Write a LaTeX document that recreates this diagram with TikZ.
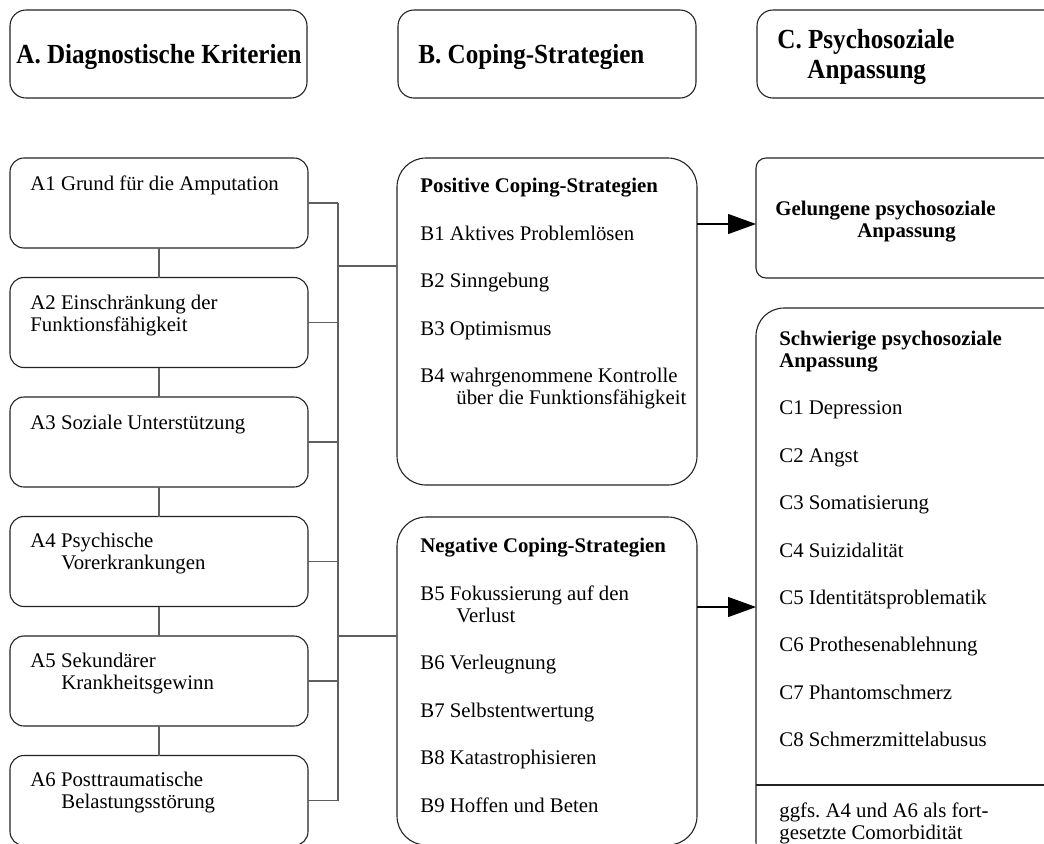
\documentclass[tikz,border=0pt]{standalone}
\usepackage{fontspec}
\setmainfont{Liberation Serif}
\newfontfamily\hdrfamily[FakeStretch=0.91]{Liberation Serif}
\usetikzlibrary{positioning,arrows.meta}
\frenchspacing
\definecolor{boxbdr}{RGB}{35,35,35}
\definecolor{connclr}{RGB}{95,95,95}
\definecolor{arrowclr}{RGB}{0,0,0}
\tikzset{
  hdrbox/.style={rectangle,rounded corners=8pt,draw=boxbdr,line width=0.55pt,
    minimum width=148.5pt,minimum height=44pt,inner sep=0pt,outer sep=0pt},
  abox/.style={rectangle,rounded corners=7pt,draw=boxbdr,line width=0.55pt,
    minimum width=149pt,minimum height=45pt,inner sep=0pt,outer sep=0pt},
  stratbox/.style={abox,rounded corners=14.5pt,minimum width=150pt},
  outbox/.style={abox,minimum width=160pt},
  hdr/.style={font=\hdrfamily\bfseries\fontsize{13.8}{15}\selectfont,
    anchor=north west,inner sep=0pt,align=left},
  txt/.style={font=\fontsize{10.4}{11}\selectfont,
    anchor=north west,inner sep=0pt,align=left},
  conn/.style={draw=connclr,line width=0.7pt},
  arr/.style={-{Triangle[length=14pt,width=10pt]},line width=0.55pt,color=arrowclr},
}

\begin{document}
\begin{tikzpicture}[x=0.5pt,y=-0.5pt]
  \useasboundingbox (0,0) rectangle (1044,843);
  \clip (0,0) rectangle (1044,843);

  % column headers
  \node[hdrbox,anchor=north west] (hA) at (10,10) {};
  \node[hdrbox,anchor=north west,minimum width=149pt] (hB) at (398,10) {};
  \node[hdrbox,anchor=north west,minimum width=160pt] (hC) at (757,10) {};
  \node[hdr] (hAt) at ([shift={(6,32)}]hA.north west) {\strut A. Diagnostische Kriterien};
  \node[hdr] (hBt) at ([shift={(20,32)}]hB.north west) {\strut B. Coping-Strategien};
  \node[hdr] (hCt) at ([shift={(20,17)}]hC.north west)
    {\strut C. Psychosoziale\\\hspace*{15pt}Anpassung};

  % A column
  \node[abox,anchor=north west] (a1) at (10,158) {};
  \node[abox,below=14.75pt of a1] (a2) {};
  \node[abox,below=14.75pt of a2] (a3) {};
  \node[abox,below=14.75pt of a3] (a4) {};
  \node[abox,below=14.75pt of a4] (a5) {};
  \node[abox,below=14.75pt of a5] (a6) {};
  \node[txt] (a1t) at ([shift={(20,16.6)}]a1.north west) {\strut A1 Grund für die Amputation};
  \node[txt] (a2t) at ([shift={(20,16.6)}]a2.north west) {\strut A2 Einschränkung der\\Funktionsfähigkeit};
  \node[txt] (a3t) at ([shift={(20,16.6)}]a3.north west) {\strut A3 Soziale Unterstützung};
  \node[txt] (a4t) at ([shift={(20,15.6)}]a4.north west) {\strut A4 Psychische\\\hspace*{15.5pt}Vorerkrankungen};
  \node[txt] (a5t) at ([shift={(20,15.6)}]a5.north west) {\strut A5 Sekundärer\\\hspace*{15.5pt}Krankheitsgewinn};
  \node[txt] (a6t) at ([shift={(20,15.6)}]a6.north west) {\strut A6 Posttraumatische\\\hspace*{15.5pt}Belastungsstörung};

  % B column
  \node[stratbox,anchor=north west,minimum height=163.5pt] (pos) at (397,158) {};
  \node[stratbox,below=16pt of pos,minimum height=164pt] (neg) {};
  \node[txt] (post) at ([shift={(23,18.6)}]pos.north west)
    {\strut\textbf{Positive Coping-Strategien}\\[12.8pt]
     B1 Aktives Problemlösen\\[12.8pt]
     B2 Sinngebung\\[12.8pt]
     B3 Optimismus\\[12.8pt]
     B4 wahrgenommene Kontrolle\\\hspace*{18pt}über die Funktionsfähigkeit};
  \node[txt] (negt) at ([shift={(23,19.6)}]neg.north west)
    {\strut\textbf{Negative Coping-Strategien}\\[12.8pt]
     B5 Fokussierung auf den\\\hspace*{18pt}Verlust\\[12.8pt]
     B6 Verleugnung\\[12.8pt]
     B7 Selbstentwertung\\[12.8pt]
     B8 Katastrophisieren\\[12.8pt]
     B9 Hoffen und Beten};

  % C column
  \node[outbox,anchor=north west,rounded corners=5pt,minimum height=60pt] (gel) at (756,158) {};
  \node[outbox,below=15pt of gel,rounded corners=14pt,minimum height=281pt] (schw) {};
  \node[txt,font=\bfseries\fontsize{10.4}{11}\selectfont] (gelt) at ([shift={(19,41.6)}]gel.north west)
    {\strut Gelungene psychosoziale\\\hspace*{41pt}Anpassung};
  \node[txt] (schwt) at ([shift={(23,21.6)}]schw.north west)
    {\strut\textbf{Schwierige psychosoziale}\\\textbf{Anpassung}\\[12.7pt]
     C1 Depression\\[12.7pt]
     C2 Angst\\[12.7pt]
     C3 Somatisierung\\[12.7pt]
     C4 Suizidalität\\[12.7pt]
     C5 Identitätsproblematik\\[12.7pt]
     C6 Prothesenablehnung\\[12.7pt]
     C7 Phantomschmerz\\[12.7pt]
     C8 Schmerzmittelabusus};
  \coordinate (div) at (756,785);
  \draw[boxbdr,line width=0.55pt] (div) -- (div -| schw.east);
  \node[txt] (comt) at ([shift={(23,16.6)}]div)
    {\strut ggfs. A4 und A6 als fort-\\gesetzte Comorbidität};

  % connectors
  \foreach \a/\b in {a1/a2,a2/a3,a3/a4,a4/a5,a5/a6}{
    \draw[conn] (\a) -- (\b);
  }
  \coordinate (bus) at (338,266);
  \coordinate (busn) at (338,636);
  \foreach \i in {1,...,6}{
    \draw[conn] (a\i.east) -- (a\i.east -| bus);
  }
  \draw[conn] (a1.east -| bus) -- (a6.east -| bus);
  \draw[conn] (bus) -- (bus -| pos.west);
  \draw[conn] (busn) -- (busn -| neg.west);
  \coordinate (ygel) at (0,224);
  \coordinate (yschw) at (0,607);
  \draw[arr] (pos.east |- ygel) -- (gel.west |- ygel);
  \draw[arr] (neg.east |- yschw) -- (schw.west |- yschw);

\end{tikzpicture}
\end{document}
